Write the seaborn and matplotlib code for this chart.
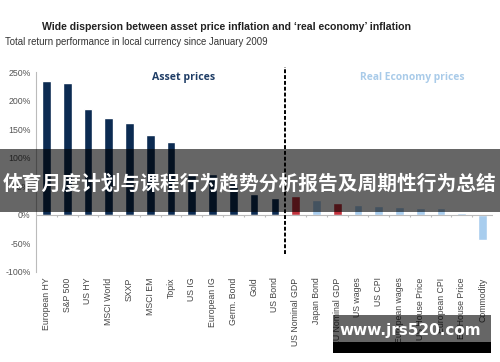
import pandas as pd
import matplotlib.pyplot as plt
import seaborn as sns
from matplotlib.patches import Rectangle
from matplotlib.ticker import FuncFormatter

categorias = ['European HY', 'S&P 500', 'US HY', 'MSCI World', 'SXXP', 'MSCI EM', 'Topix',
              'US IG', 'European IG', 'Germ. Bond', 'Gold', 'US Bond',
              'US Nominal GDP', 'Japan Bond', 'EU Nominal GDP', 'US wages', 'US CPI',
              'European wages', 'US House Price', 'European CPI', 'EA House Price', 'Commodity']
retornos = [234, 231, 185, 170, 161, 139, 127, 74, 72, 55, 36, 29,
            33, 26, 20, 17, 16, 14, 12, 11, 3.5, -44]
grupos = ['asset'] * 12 + ['gdp', 'real', 'gdp'] + ['real'] * 7
cores = {'asset': '#0c2b52', 'gdp': '#c0303b', 'real': '#a8cdee'}

titulo = "Wide dispersion between asset price inflation and \u2018real economy\u2019 inflation"
subtitulo = 'Total return performance in local currency since January 2009'
faixa = '体育月度计划与课程行为趋势分析报告及周期性行为总结'
site = 'www.jrs520.com'

df = pd.DataFrame({'categoria': categorias, 'retorno': retornos, 'grupo': grupos})

sns.set_style('white')
plt.rcParams['font.family'] = ['Liberation Sans', 'DejaVu Sans']

fig = plt.figure(figsize=(5, 3.62), dpi=100)
ax = fig.add_axes([0.072, 0.249, 0.914, 0.552])

sns.barplot(data=df, x='categoria', y='retorno', hue='grupo', palette=cores,
            dodge=False, width=0.42, legend=False, ax=ax, saturation=1)

ax.set_ylim(-100, 250)
ax.set_xlim(-0.5, len(categorias) - 0.5)
ax.set_yticks(range(-100, 251, 50))
ax.yaxis.set_major_formatter(FuncFormatter(lambda v, p: f'{int(v)}%'))
ax.tick_params(axis='y', labelsize=6.3, labelcolor='#555555', length=2, color='#bbbbbb', pad=2)
ax.tick_params(axis='x', labelsize=6.3, labelcolor='#444444', length=0, pad=4)
plt.setp(ax.get_xticklabels(), rotation=90)
ax.set_xlabel('')
ax.set_ylabel('')
for s in ['top', 'right', 'bottom']:
    ax.spines[s].set_visible(False)
ax.spines['left'].set_color('#bbbbbb')
ax.spines['left'].set_linewidth(0.8)

# linha do zero com pequenos tiques entre categorias
ax.axhline(0, color='#bbbbbb', lw=0.8)
ax.vlines([i + 0.5 for i in range(len(categorias) - 1)], -4, 0, color='#bbbbbb', lw=0.8)

# divisória tracejada
ax.plot([11.5, 11.5], [-69, 259], color='black', ls=(0, (2, 1)), lw=1.4, clip_on=False)

ax.text(6.6, 240, 'Asset prices', color='#1f3d66', fontsize=7.6, fontweight='bold',
        family=['Open Sans', 'DejaVu Sans'], ha='center', va='center')
ax.text(17.6, 240, 'Real Economy prices', color='#a9cbe9', fontsize=7.4, fontweight='bold',
        family=['Open Sans', 'DejaVu Sans'], ha='center', va='center')

fig.text(0.452, 0.925, titulo, fontsize=7.6, fontweight='bold', color='#222222',
         ha='center', va='center')
fig.text(0.01, 0.884, subtitulo, fontsize=6.9, color='#333333', ha='left', va='center')

# faixa com texto sobreposto
fig.add_artist(Rectangle((0, 1 - 212 / 362), 1, 63 / 362, transform=fig.transFigure,
                         facecolor='black', alpha=0.6, lw=0))
fig.text(0.5, 1 - 184 / 362, faixa, fontsize=14.2, fontweight='bold', color='white',
         ha='center', va='center', family=['Noto Sans CJK SC', 'DejaVu Sans'])

# marca do site
fig.add_artist(Rectangle((333 / 500, 1 - 342 / 362), 158 / 500, 27 / 362,
                         transform=fig.transFigure, facecolor='black', alpha=0.6, lw=0))
fig.add_artist(Rectangle((333 / 500, 1 - 353 / 362), 158 / 500, 11 / 362,
                         transform=fig.transFigure, facecolor='black', lw=0))
fig.text(410 / 500, 1 - 331 / 362, site, fontsize=11, fontweight='bold', color='white',
         ha='center', va='center', family=['DejaVu Sans'])

fig.savefig('out.png', dpi=100)
